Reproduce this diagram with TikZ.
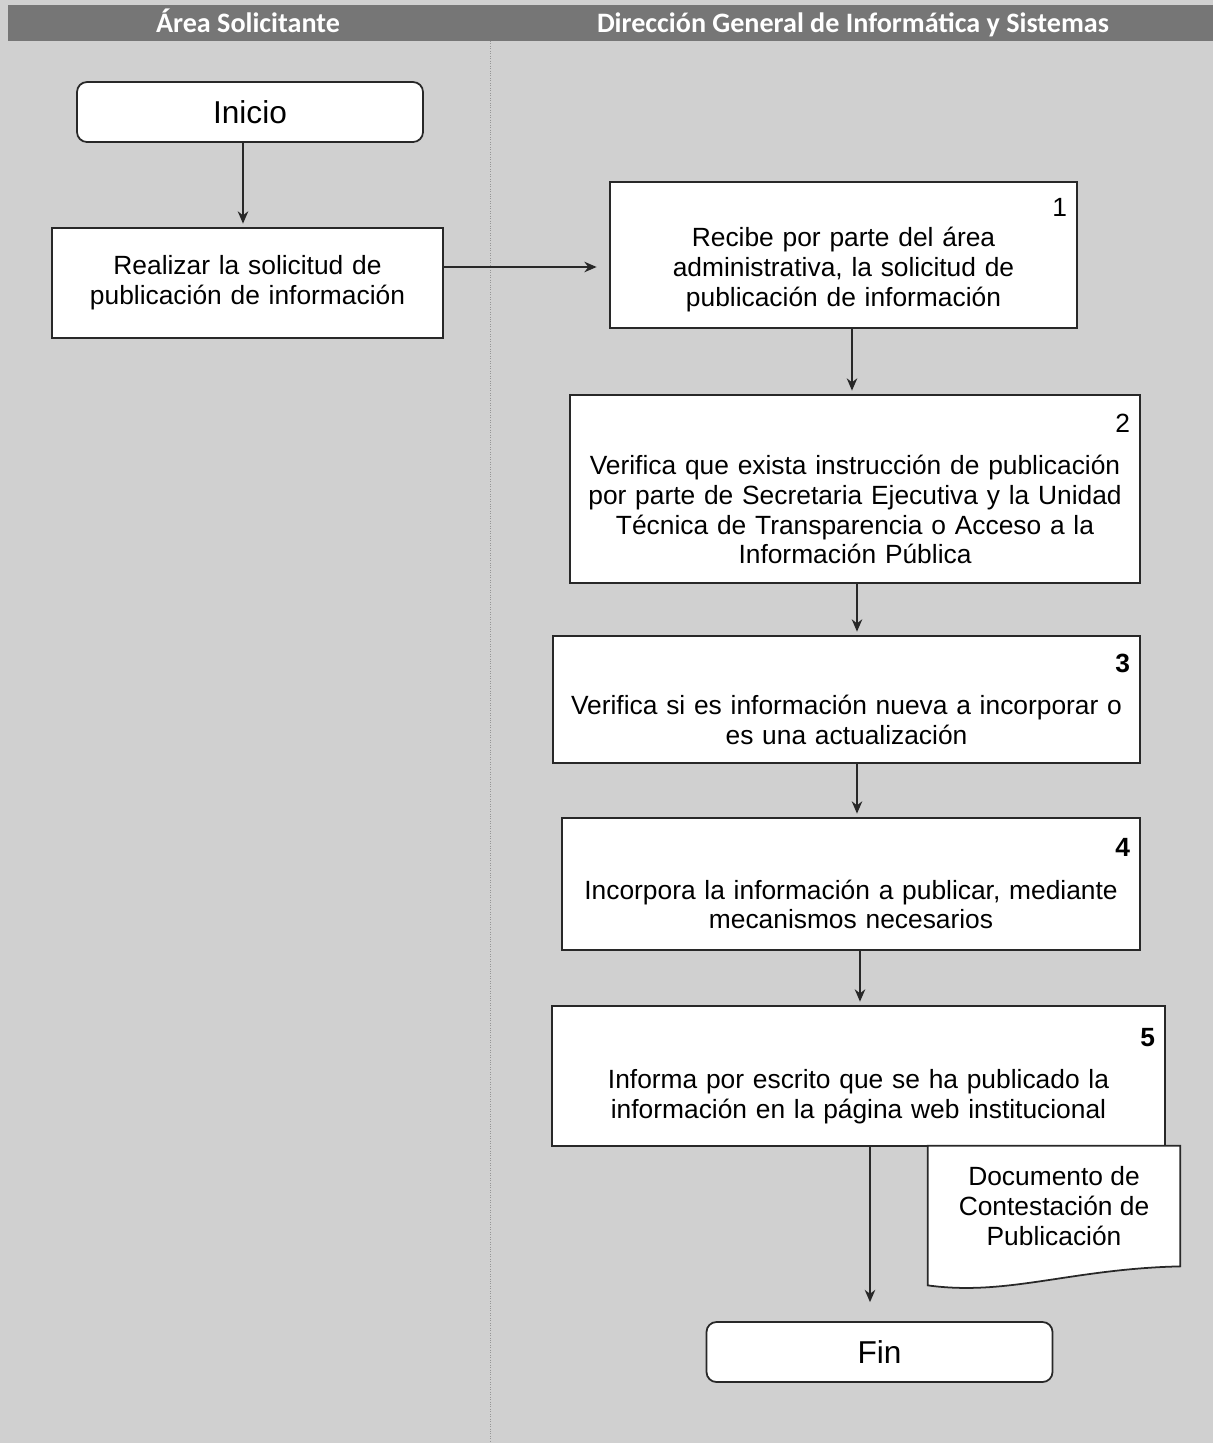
\documentclass[tikz,border=0pt]{standalone}
\usepackage{fontspec}
\setmainfont{Liberation Sans}
\newfontfamily\headfont{Carlito}
\usetikzlibrary{arrows.meta}
\definecolor{page}{RGB}{208, 208, 208}
\definecolor{head}{RGB}{118, 118, 118}
\definecolor{lane}{RGB}{150, 150, 150}
\definecolor{edge}{RGB}{40, 40, 40}

\begin{document}
\begin{tikzpicture}[auto]
    \tikzstyle{termblock} = [rectangle, draw=edge, line width=1pt, fill=white,
    rounded corners=0.2cm, minimum width=6.92cm, minimum height=1.2cm, font=\fontsize{18}{21}\selectfont];
    \tikzstyle{actblock} = [rectangle, draw=edge, line width=1pt, fill=white,
    align=center, inner xsep=0.2cm, inner ysep=0pt, font=\fontsize{15}{17}\selectfont];
    \tikzstyle{docblock} = [rectangle, minimum width=5.04cm, minimum height=2.4cm, inner sep=0pt];
    \tikzstyle{doctext} = [align=center, font=\fontsize{15}{17}\selectfont];
    \tikzstyle{headtext} = [text=white, anchor=base, font=\headfont\bfseries\fontsize{16}{19}\selectfont];
    \tikzstyle{line} = [draw, line width=0.9pt, edge, -{Stealth[length=7pt,width=6pt]}, shorten >=2pt];

    \useasboundingbox (0,0) rectangle (24.26,-28.86);
    \fill[page] (0,0) rectangle (24.26,-28.86);
    % Lanes
    \fill[head] (0.16,-0.1) rectangle (24.26,-0.82);
    \node[headtext] (area) at (4.96,-0.64) {Área Solicitante};
    \node[headtext] (dgis) at (17.06,-0.64) {Dirección General de Informática y Sistemas};
    \draw[lane, densely dotted] (9.8,-0.82) -- (9.8,-28.86);

    % Area Solicitante
    \node[termblock] (inicio) at (5.0,-2.24) {Inicio};
    \node[actblock, text width=7.42cm, minimum height=2.2cm] (solicitud) at (4.95,-5.66)
      {Realizar la solicitud de\\publicación de información};
    % Direccion General
    \node[actblock, text width=8.94cm, minimum height=2.92cm] (recibe) at (16.87,-5.10)
      {\hspace*{\stretch{1}}1\hspace*{0.4cm}\\Recibe por parte del área\\administrativa, la solicitud de\\publicación de información};
    \node[actblock, text width=11.0cm, minimum height=3.76cm] (instruccion) at (17.1,-9.78)
      {\hspace*{\stretch{1}}2\hspace*{0.2cm}\\[7pt]Verifica que exista instrucción de publicación\\por parte de Secretaria Ejecutiva y la Unidad\\Técnica de Transparencia o Acceso a la\\Información Pública};
    \node[actblock, text width=11.34cm, minimum height=2.54cm] (nueva) at (16.93,-13.99)
      {\hspace*{\stretch{1}}\textbf{3}\hspace*{0.2cm}\\[7pt]Verifica si es información nueva a incorporar o\\es una actualización};
    \node[actblock, text width=11.16cm, minimum height=2.64cm] (incorpora) at (17.02,-17.68)
      {\hspace*{\stretch{1}}\textbf{4}\hspace*{0.2cm}\\[7pt]Incorpora la información a publicar, mediante\\mecanismos necesarios};
    \node[actblock, text width=11.86cm, minimum height=2.8cm] (informa) at (17.17,-21.52)
      {\hspace*{\stretch{1}}\textbf{5}\hspace*{0.2cm}\\[7pt]Informa por escrito que se ha publicado la\\información en la página web institucional};
    % Documento
    \node[docblock] (doc) at (21.08,-24.12) {};
    \draw[line width=1pt, draw=edge, fill=white] (doc.north west) -- (doc.north east) -- (doc.south east)
      .. controls ([xshift=-2.2cm,yshift=-0.05cm]doc.south east) and ([xshift=1.6cm,yshift=-0.6cm]doc.south west)
      .. ([yshift=-0.38cm]doc.south west) -- cycle;
    \node[doctext] (docname) at (doc.center) {Documento de\\Contestación de\\Publicación};
    \node[termblock] (fin) at (17.59,-27.04) {Fin};

    \tikzstyle{every path}=[line]
      % Drawing the links
      \draw ([xshift=-0.14cm]inicio.south) -- ([xshift=-0.14cm]inicio.south |- solicitud.north);
      \draw[shorten >=0.25cm] ([yshift=0.32cm]solicitud.east) -- ([yshift=0.32cm]solicitud.east -| recibe.west);
      \draw ([xshift=0.17cm]recibe.south) -- ([xshift=0.17cm]recibe.south |- instruccion.north);
      \draw ([xshift=0.04cm]instruccion.south) -- ([xshift=0.04cm]instruccion.south |- nueva.north);
      \draw ([xshift=0.21cm]nueva.south) -- ([xshift=0.21cm]nueva.south |- incorpora.north);
      \draw ([xshift=0.18cm]incorpora.south) -- ([xshift=0.18cm]incorpora.south |- informa.north);
      \draw[shorten >=0.38cm] ([xshift=0.23cm]informa.south) -- ([xshift=0.23cm]informa.south |- fin.north);
\end{tikzpicture}
\end{document}
